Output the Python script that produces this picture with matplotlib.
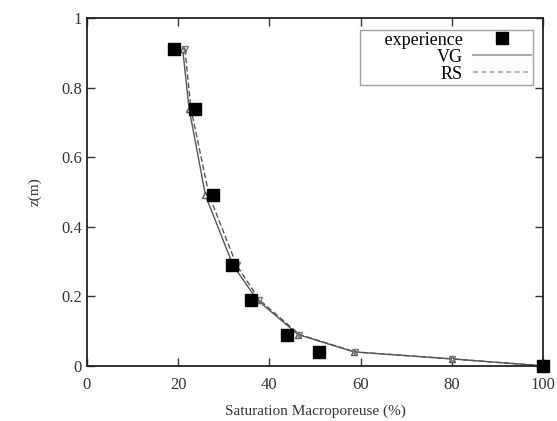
import matplotlib
matplotlib.use('Agg')
import matplotlib.pyplot as plt

plt.rcParams['font.family'] = ['Liberation Serif', 'DejaVu Serif']

# experimental data
exp_sat = [19, 23.7, 27.6, 31.8, 35.9, 43.9, 50.9, 100]
exp_z = [0.91, 0.74, 0.49, 0.29, 0.19, 0.09, 0.04, 0.0]

# VG model
vg_sat = [21, 22.4, 26.0, 32.0, 37.3, 46.3, 58.6, 80, 100]
vg_z = [0.91, 0.74, 0.49, 0.29, 0.19, 0.09, 0.04, 0.02, 0.0]

# RS model
rs_sat = [21.5, 22.8, 26.8, 32.8, 37.8, 46.6, 58.8, 80, 100]
rs_z = [0.91, 0.74, 0.49, 0.29, 0.19, 0.09, 0.04, 0.02, 0.0]

fig = plt.figure(figsize=(5.57, 4.21), dpi=100)
ax = fig.add_axes([0.156, 0.131, 0.819, 0.826])

ax.plot(vg_sat, vg_z, color='#555555', lw=1.0, marker='^', ms=5,
        mfc='white', mec='#555555', label='_nolegend_')
ax.plot(rs_sat, rs_z, color='#555555', lw=1.0, ls=(0, (4, 2)), marker='v', ms=5,
        mfc='none', mec='#777777', label='_nolegend_')
ax.plot(exp_sat, exp_z, ls='none', marker='s', ms=8, color='black',
        label='     experience', clip_on=False, zorder=5)
ax.plot([], [], color='#aaaaaa', lw=1.5, label='VG')
ax.plot([], [], color='#aaaaaa', lw=1.2, ls=(0, (3, 2)), label='RS')

ax.set_xlim(0, 100)
ax.set_ylim(0, 1)
ax.set_xticks([0, 20, 40, 60, 80, 100])
ax.set_yticks([0, 0.2, 0.4, 0.6, 0.8, 1])
ax.set_yticklabels(['0', '0.2', '0.4', '0.6', '0.8', '1'])
ax.tick_params(direction='in', top=True, right=True, length=6, width=1,
               labelsize=12, colors='#333333')
ax.tick_params(axis='x', pad=8)
for s in ax.spines.values():
    s.set_linewidth(1.3)
    s.set_color('#222222')

ax.set_xlabel('Saturation Macroporeuse (%)', fontsize=11, color='#333333', labelpad=8)
ax.set_ylabel('z(m)', fontsize=11, color='#333333', labelpad=14)

leg = ax.legend(loc='upper right', bbox_to_anchor=(0.978, 0.966), borderaxespad=0,
                markerfirst=False, fontsize=13, frameon=True, fancybox=False,
                edgecolor='#888888', handlelength=3.2, borderpad=0.1,
                labelspacing=0.0, handletextpad=0.6)
leg.get_frame().set_linewidth(1.0)
for t in leg.get_texts():
    t.set_ha('right')

fig.savefig('out.png', dpi=100)
